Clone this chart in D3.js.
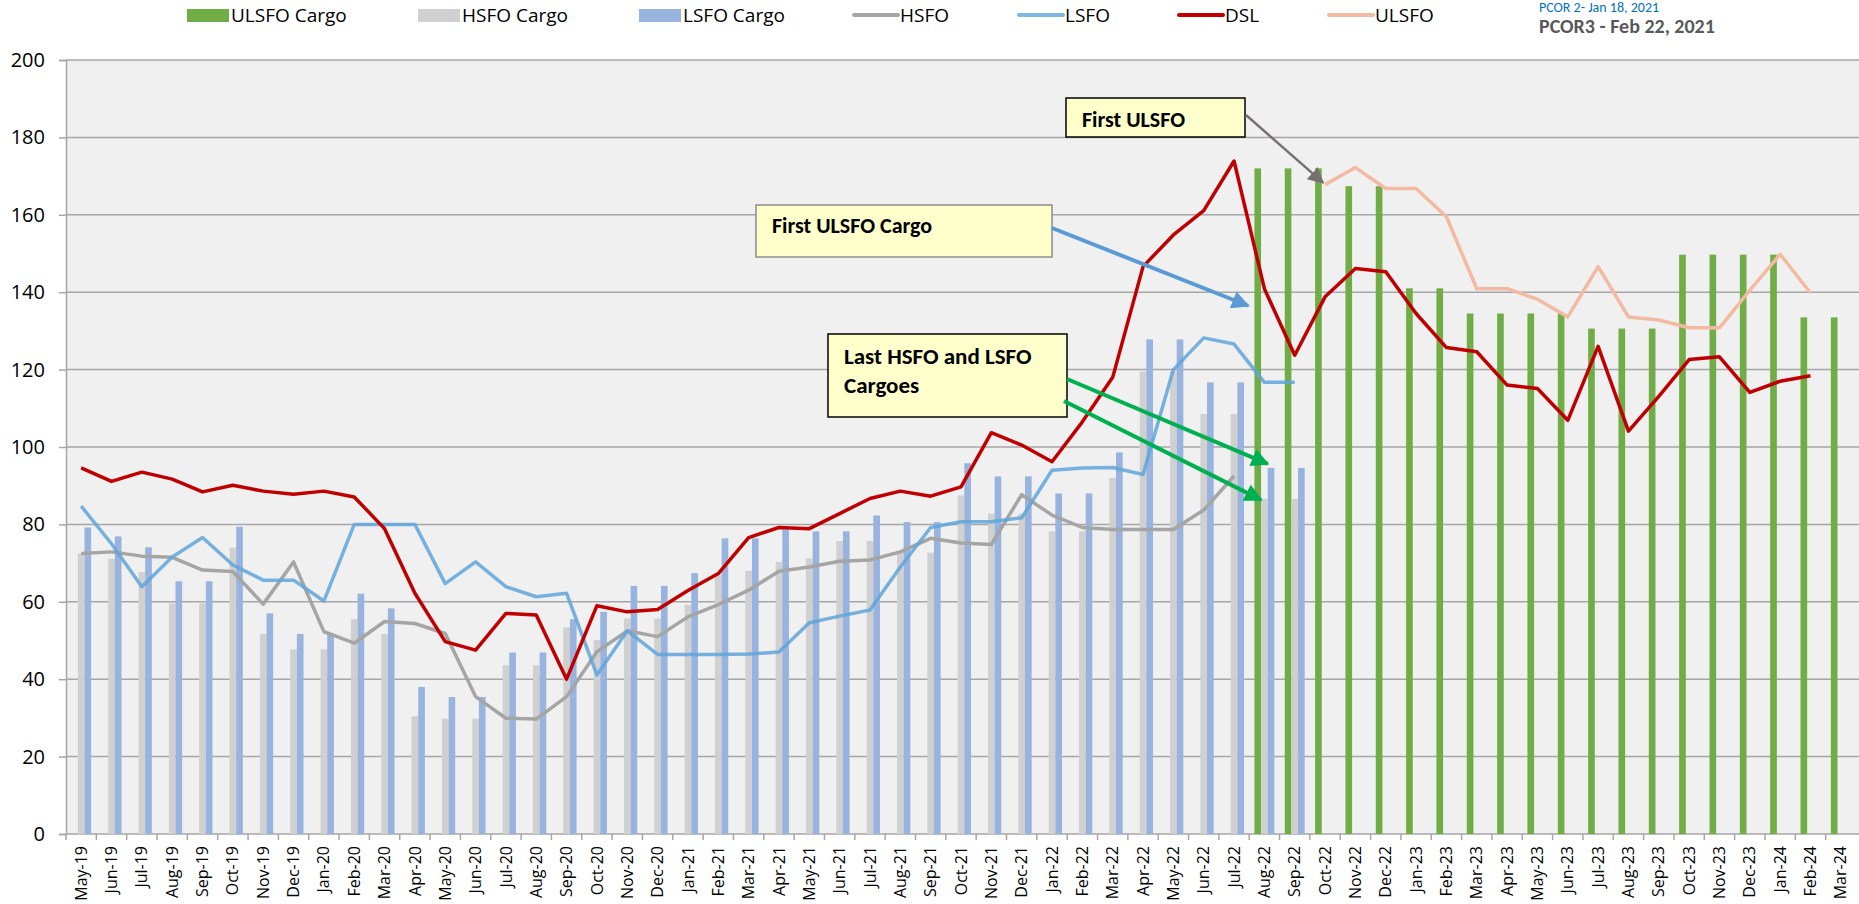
<!DOCTYPE html>
<html>
<head>
<meta charset="utf-8">
<script src="https://d3js.org/d3.v7.min.js"></script>
<style>
  body { margin: 0; background: #fff; }
  svg text { font-family: Carlito, Calibri, Lato, "Open Sans", sans-serif; }
  svg text.wide { font-family: "Open Sans", sans-serif; }
</style>
</head>
<body>
<div id="chart"></div>
<script>
// ------------------------------------------------------------------------ //
// DATA
// ------------------------------------------------------------------------ //

var months = ["May-19","Jun-19","Jul-19","Aug-19","Sep-19","Oct-19","Nov-19","Dec-19",
  "Jan-20","Feb-20","Mar-20","Apr-20","May-20","Jun-20","Jul-20","Aug-20","Sep-20","Oct-20","Nov-20","Dec-20",
  "Jan-21","Feb-21","Mar-21","Apr-21","May-21","Jun-21","Jul-21","Aug-21","Sep-21","Oct-21","Nov-21","Dec-21",
  "Jan-22","Feb-22","Mar-22","Apr-22","May-22","Jun-22","Jul-22","Aug-22","Sep-22","Oct-22","Nov-22","Dec-22",
  "Jan-23","Feb-23","Mar-23","Apr-23","May-23","Jun-23","Jul-23","Aug-23","Sep-23","Oct-23","Nov-23","Dec-23",
  "Jan-24","Feb-24","Mar-24"]

var ulsfoCargo = [null,null,null,null,null,null,null,null,
  null,null,null,null,null,null,null,null,null,null,null,null,
  null,null,null,null,null,null,null,null,null,null,null,null,
  null,null,null,null,null,null,null,172,172,172,167.4,167.4,
  141,141,134.5,134.5,134.5,134.5,130.6,130.6,130.6,149.7,149.7,149.7,
  149.7,133.5,133.5]

var hsfoCargo = [72.5,71.1,67.7,59.6,59.6,74.0,51.7,47.7,
  47.7,55.5,51.7,30.4,29.8,29.8,43.6,43.6,53.4,50.1,55.7,55.7,
  59.2,66.9,68.0,70.3,71.2,75.7,75.7,72.9,72.7,87.5,82.8,82.8,
  78.2,78.2,92.0,119.5,119.5,108.5,108.5,86.6,86.6,null,null,null,
  null,null,null,null,null,null,null,null,null,null,null,null,
  null,null,null]

var lsfoCargo = [79.2,76.9,74.1,65.3,65.3,79.4,57.0,51.7,
  51.7,62.1,58.3,38.0,35.4,35.4,46.9,46.9,55.5,57.4,64.1,64.1,
  67.4,76.4,76.4,78.7,78.2,78.2,82.3,80.6,80.6,95.8,92.4,92.4,
  88.0,88.0,98.6,127.8,127.8,116.7,116.7,94.6,94.6,null,null,null,
  null,null,null,null,null,null,null,null,null,null,null,null,
  null,null,null]

var hsfo = [72.5,72.9,71.8,71.5,68.2,67.8,59.4,70.3,
  52.3,49.3,54.9,54.4,51.8,35.5,29.9,29.7,35.5,47.1,52.5,51.0,
  56.1,59.3,63.0,67.9,69.0,70.5,70.8,72.9,76.4,75.2,74.8,87.7,
  82.4,79.2,78.7,78.7,78.7,83.7,92.5,null,null,null,null,null,
  null,null,null,null,null,null,null,null,null,null,null,null,
  null,null,null]

var lsfo = [84.7,75.0,63.9,71.6,76.6,69.5,65.6,65.6,
  60.2,80,80,80,64.7,70.3,63.9,61.3,62.2,41.1,52.5,46.4,
  46.4,46.4,46.5,47.0,54.6,56.3,57.9,69.0,79.2,80.7,80.7,81.7,
  94.0,94.6,94.7,92.9,120.0,128.2,126.6,116.7,116.7,null,null,null,
  null,null,null,null,null,null,null,null,null,null,null,null,
  null,null,null]

var dsl = [94.6,91.1,93.5,91.7,88.4,90.1,88.6,87.8,
  88.6,87.1,78.9,62.2,49.7,47.5,57.0,56.6,40.0,59.0,57.4,58.0,
  62.9,67.3,76.6,79.2,78.9,82.8,86.7,88.6,87.3,89.7,103.7,100.5,
  96.2,106.5,118.0,146.6,154.8,161.1,173.9,140.9,123.7,138.8,146.1,145.3,
  134.5,125.7,124.6,116.0,115.1,106.9,126.0,104.1,113.1,122.6,123.3,114.1,
  117.0,118.4,null]

var ulsfo = [null,null,null,null,null,null,null,null,
  null,null,null,null,null,null,null,null,null,null,null,null,
  null,null,null,null,null,null,null,null,null,null,null,null,
  null,null,null,null,null,null,null,null,null,167.8,172.2,166.8,
  166.8,159.5,140.9,140.9,138.2,133.6,146.6,133.6,132.8,130.8,130.8,140.5,
  149.8,139.8,null]

var yTicks = [0,20,40,60,80,100,120,140,160,180,200]


// ------------------------------------------------------------------------ //
// SVG AREA
// ------------------------------------------------------------------------ //

var W = 1859, H = 904
var margin = {top: 60, left: 66, bottom: 70}
var plotRight = 1856
var yBottom = H - margin.bottom

var svg = d3.select("#chart")
  .append("svg")
    .attr("width", W)
    .attr("height", H)

var defs = svg.append("defs")
function marker(id, color, size) {
  defs.append("marker")
    .attr("id", id)
    .attr("viewBox", "0 0 10 10")
    .attr("refX", 9).attr("refY", 5)
    .attr("markerUnits", "userSpaceOnUse")
    .attr("markerWidth", size).attr("markerHeight", size)
    .attr("orient", "auto")
  .append("path")
    .attr("d", "M0,0 L10,5 L0,10 z")
    .attr("fill", color)
}
marker("arrGray", "#767171", 16)
marker("arrBlue", "#5b9bd5", 18)
marker("arrGreen", "#00b050", 18)


// ------------------------------------------------------------------------ //
// SCALES
// ------------------------------------------------------------------------ //

var x = d3.scaleBand()
  .domain(months)
  .range([margin.left, plotRight])
  .padding(0)

var keys = ["ULSFO Cargo", "HSFO Cargo", "LSFO Cargo"]
var xSub = d3.scaleBand()
  .domain(keys)
  .range([0, x.bandwidth()])
  .paddingInner(0)
  .paddingOuter(0.78)

var y = d3.scaleLinear()
  .domain([0, 200])
  .range([yBottom, margin.top])

var xc = function(i) { return x(months[i]) + x.bandwidth() / 2 }


// ------------------------------------------------------------------------ //
// BACKGROUND, GRID AND AXES
// ------------------------------------------------------------------------ //

svg.append("rect")
  .attr("x", margin.left).attr("y", y(200))
  .attr("width", W - margin.left).attr("height", y(0) - y(200))
  .attr("fill", "#f0f0f0")

svg.append("g")
  .selectAll("line")
  .data(yTicks.filter(function(d){ return d > 0 }))
  .enter().append("line")
    .attr("x1", margin.left).attr("x2", W)
    .attr("y1", function(d){ return y(d) }).attr("y2", function(d){ return y(d) })
    .style("stroke", "#a6a6a6")
    .style("stroke-width", 1.5)

var yAxis = svg.append("g")
  .attr("transform", "translate(" + margin.left + ",0)")
  .call(d3.axisLeft(y).tickValues(yTicks).tickSize(7).tickPadding(14))
yAxis.selectAll("line").style("stroke", "#a6a6a6").style("stroke-width", 1.5)
yAxis.select(".domain").style("stroke", "#a6a6a6").style("stroke-width", 1.5)
yAxis.selectAll("text").attr("class", "wide").style("font-size", "20px").style("fill", "#000")

var xAxis = svg.append("g")
  .attr("transform", "translate(0," + yBottom + ")")
  .call(d3.axisBottom(x).tickSize(0).tickPadding(0))
xAxis.select(".domain").remove()
xAxis.append("line")
  .attr("x1", margin.left).attr("x2", W)
  .style("stroke", "#a6a6a6").style("stroke-width", 1.5)
xAxis.selectAll(".tick text")
  .attr("class", "wide")
  .attr("transform", "rotate(-90)")
  .attr("x", -12)
  .attr("y", 0)
  .attr("dy", "0.35em")
  .style("text-anchor", "end")
  .style("font-size", "16px")
  .style("fill", "#000")

// tick marks between categories
xAxis.selectAll(".sep")
  .data(months)
  .enter().append("line")
    .attr("class", "sep")
    .attr("x1", function(d){ return x(d) }).attr("x2", function(d){ return x(d) })
    .attr("y1", 0).attr("y2", 6)
    .style("stroke", "#a6a6a6")
    .style("stroke-width", 1.5)


// ------------------------------------------------------------------------ //
// BARS
// ------------------------------------------------------------------------ //

var barSeries = [
  {key: "ULSFO Cargo", values: ulsfoCargo, color: "#70ad47"},
  {key: "HSFO Cargo", values: hsfoCargo, color: "#d0d0d0"},
  {key: "LSFO Cargo", values: lsfoCargo, color: "#98b3de"}
]

barSeries.forEach(function(s) {
  svg.append("g")
    .selectAll("rect")
    .data(s.values.map(function(v, i){ return {i: i, v: v} }).filter(function(d){ return d.v != null }))
    .enter().append("rect")
      .attr("x", function(d){ return x(months[d.i]) + xSub(s.key) })
      .attr("width", xSub.bandwidth())
      .attr("y", function(d){ return y(d.v) })
      .attr("height", function(d){ return y(0) - y(d.v) })
      .attr("fill", s.color)
})


// ------------------------------------------------------------------------ //
// LINES
// ------------------------------------------------------------------------ //

var lineGen = d3.line()
  .defined(function(d){ return d != null })
  .x(function(d, i){ return xc(i) })
  .y(function(d){ return y(d) })

var lineSeries = [
  {key: "HSFO", values: hsfo, color: "#a5a5a5", w: 3.5, op: 1},
  {key: "LSFO", values: lsfo, color: "#5fa5da", w: 3.5, op: 0.85},
  {key: "DSL", values: dsl, color: "#c00000", w: 3.5, op: 1},
  {key: "ULSFO", values: ulsfo, color: "#f4b9a2", w: 3.5, op: 1}
]

lineSeries.forEach(function(s) {
  svg.append("path")
    .datum(s.values)
    .attr("d", lineGen)
    .attr("fill", "none")
    .style("stroke", s.color)
    .style("stroke-width", s.w)
    .style("stroke-linejoin", "round")
    .style("opacity", s.op)
})


// ------------------------------------------------------------------------ //
// ANNOTATION
// ------------------------------------------------------------------------ //

function box(x0, y0, w, h, stroke, lines, size, lineH) {
  svg.append("rect")
    .attr("x", x0).attr("y", y0).attr("width", w).attr("height", h)
    .attr("fill", "#ffffcc")
    .style("stroke", stroke)
    .style("stroke-width", 1.5)
  lines.forEach(function(t, k) {
    svg.append("text")
      .attr("x", lines.x).attr("y", lines.y + k * lineH)
      .style("font-size", size + "px")
      .style("font-weight", "bold")
      .style("fill", "#000")
      .text(t)
  })
}

var l1 = ["First ULSFO"]; l1.x = 1082; l1.y = 127
box(1066, 98, 179, 39, "#000", l1, 22, 0)

var l2 = ["First ULSFO Cargo"]; l2.x = 772; l2.y = 233
box(756, 205, 296, 52, "#8c8c8c", l2, 22, 0)

var l3 = ["Last HSFO and LSFO", "Cargoes"]; l3.x = 844; l3.y = 364
box(828, 334, 239, 83, "#000", l3, 23, 29)

// arrows pointing at the data
svg.append("line")
  .attr("x1", 1246).attr("y1", 115)
  .attr("x2", xc(41) - 2).attr("y2", y(ulsfo[41]) - 2)
  .style("stroke", "#767171").style("stroke-width", 2.5)
  .attr("marker-end", "url(#arrGray)")

svg.append("line")
  .attr("x1", 1052).attr("y1", 228)
  .attr("x2", x(months[39]) - 1).attr("y2", y(136.5))
  .style("stroke", "#5b9bd5").style("stroke-width", 4)
  .attr("marker-end", "url(#arrBlue)")

svg.append("line")
  .attr("x1", 1067).attr("y1", 379)
  .attr("x2", x(months[39]) + xSub("LSFO Cargo")).attr("y2", y(lsfoCargo[39]) - 4)
  .style("stroke", "#00b050").style("stroke-width", 4)
  .attr("marker-end", "url(#arrGreen)")

svg.append("line")
  .attr("x1", 1064).attr("y1", 401)
  .attr("x2", x(months[39]) + xSub("HSFO Cargo")).attr("y2", y(hsfoCargo[39]) + 1)
  .style("stroke", "#00b050").style("stroke-width", 4)
  .attr("marker-end", "url(#arrGreen)")


// ------------------------------------------------------------------------ //
// LEGEND
// ------------------------------------------------------------------------ //

var legendBars = [
  {label: "ULSFO Cargo", color: "#70ad47", x: 187},
  {label: "HSFO Cargo", color: "#d0d0d0", x: 418},
  {label: "LSFO Cargo", color: "#98b3de", x: 639}
]
var legendLines = [
  {label: "HSFO", color: "#a5a5a5", x: 854},
  {label: "LSFO", color: "#7db7e3", x: 1019},
  {label: "DSL", color: "#c00000", x: 1179},
  {label: "ULSFO", color: "#f4b9a2", x: 1329}
]

legendBars.forEach(function(d) {
  svg.append("rect").attr("x", d.x).attr("y", 9).attr("width", 42).attr("height", 13).attr("fill", d.color)
  svg.append("text").attr("class", "wide").attr("x", d.x + 44).attr("y", 22)
    .style("font-size", "19px").style("fill", "#000").text(d.label)
})
legendLines.forEach(function(d) {
  svg.append("line").attr("x1", d.x).attr("x2", d.x + 44).attr("y1", 15).attr("y2", 15)
    .style("stroke", d.color).style("stroke-width", 4).style("stroke-linecap", "round")
  svg.append("text").attr("class", "wide").attr("x", d.x + 46).attr("y", 22)
    .style("font-size", "19px").style("fill", "#000").text(d.label)
})

svg.append("text")
  .attr("x", 1539).attr("y", 12)
  .style("font-size", "14px").style("fill", "#0070c0")
  .text("PCOR 2- Jan 18, 2021")
svg.append("text")
  .attr("x", 1539).attr("y", 33)
  .style("font-size", "20px").style("font-weight", "bold").style("fill", "#595959")
  .text("PCOR3 - Feb 22, 2021")
</script>
</body>
</html>
